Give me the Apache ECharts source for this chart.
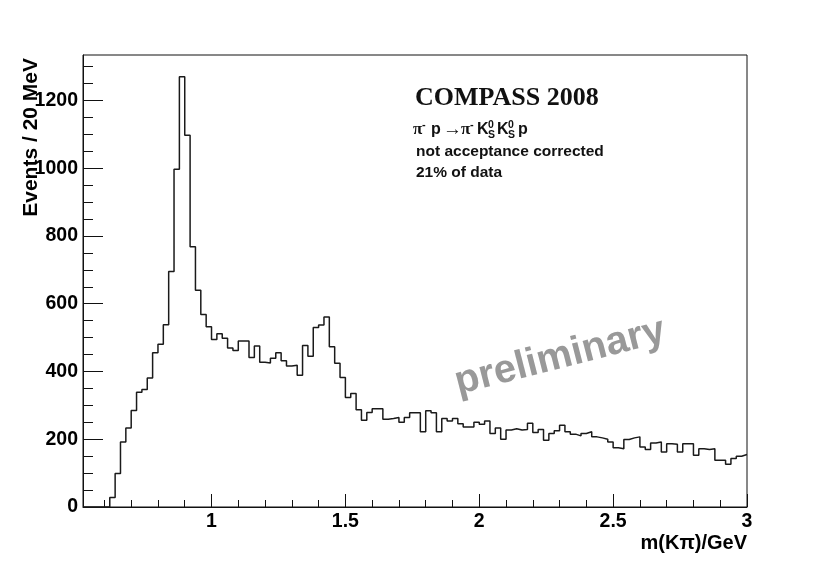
<!DOCTYPE html>
<html>
<head>
<meta charset="utf-8">
<title>COMPASS 2008 m(Kπ)</title>
<script src="https://cdn.jsdelivr.net/npm/echarts@6/dist/echarts.min.js"></script>
<style>
html, body { margin: 0; padding: 0; background: #fff; }
#chart { width: 830px; height: 563px; }
</style>
</head>
<body>
<div id="chart"></div>
<script>
// binning in GeV (20 MeV bins)
const binLow = 0.52;
const binWidth = 0.02;

// events per bin
const counts = [
  0, 0, 0, 0, 0, 28, 99, 192, 233, 285,
  339, 347, 381, 455, 480, 538, 695, 997, 1270, 1097,
  768, 640, 568, 532, 494, 511, 498, 469, 462, 490,
  490, 441, 475, 427, 425, 439, 455, 432, 416, 418,
  389, 477, 445, 530, 537, 561, 473, 424, 382, 323,
  335, 287, 256, 279, 290, 290, 259, 261, 264, 250,
  264, 278, 278, 222, 284, 278, 222, 261, 254, 261,
  246, 236, 236, 250, 244, 254, 217, 233, 200, 227,
  231, 227, 229, 247, 220, 229, 197, 217, 225, 241,
  222, 215, 210, 217, 222, 207, 204, 200, 192, 175,
  172, 199, 204, 207, 177, 170, 189, 192, 162, 187,
  185, 162, 187, 187, 153, 172, 170, 172, 138, 138,
  126, 143, 150, 155
];

const xMajorTicks = [1, 1.5, 2, 2.5, 3];
const xMinorTicks = [0.6, 0.7, 0.8, 0.9, 1.1, 1.2, 1.3, 1.4, 1.6, 1.7, 1.8, 1.9,
  2.1, 2.2, 2.3, 2.4, 2.6, 2.7, 2.8, 2.9];
const yMajorTicks = [0, 200, 400, 600, 800, 1000, 1200];
const yMinorTicks = [50, 100, 150, 250, 300, 350, 450, 500, 550, 650, 700, 750,
  850, 900, 950, 1050, 1100, 1150, 1250, 1300];

// left bin edge + content, plus closing point at the upper edge
const histPoints = counts.map((c, i) => [+(binLow + i * binWidth).toFixed(2), c]);
histPoints.push([+(binLow + counts.length * binWidth).toFixed(2), counts[counts.length - 1]]);

const xMin = binLow;
const xMax = +(binLow + counts.length * binWidth).toFixed(2);
const yMax = 1334;

const sans = '"Liberation Sans", Arial, Helvetica, sans-serif';
const serif = '"Liberation Serif", "Times New Roman", serif';
const ink = '#111';

function txt(x, y, text, font, extra) {
  return {
    type: 'text', x: x, y: y, z: 100,
    style: Object.assign({ text: text, font: font, fill: ink, verticalAlign: 'middle' }, extra || {})
  };
}

const chart = echarts.init(document.getElementById('chart'), null, { renderer: 'canvas' });

chart.setOption({
  animation: false,
  backgroundColor: '#fff',
  grid: {
    left: 83, right: 83, top: 55, bottom: 56,
    show: true, borderColor: ink, borderWidth: 1, backgroundColor: 'transparent'
  },
  xAxis: [
    {
      type: 'value', min: xMin, max: xMax, position: 'bottom',
      axisLine: { lineStyle: { color: ink, width: 1 } },
      axisTick: { inside: true, length: 13, customValues: xMajorTicks, lineStyle: { color: ink } },
      axisLabel: {
        customValues: xMajorTicks, margin: 5, color: '#000',
        fontSize: 19.5, fontWeight: 'bold', fontFamily: sans,
        formatter: v => String(v)
      },
      splitLine: { show: false }
    },
    {
      type: 'value', min: xMin, max: xMax, position: 'bottom',
      axisLine: { show: false },
      axisTick: { inside: true, length: 7, customValues: xMinorTicks, lineStyle: { color: ink } },
      axisLabel: { show: false },
      splitLine: { show: false }
    }
  ],
  yAxis: [
    {
      type: 'value', min: 0, max: yMax, position: 'left',
      axisLine: { show: true, lineStyle: { color: ink, width: 1 } },
      axisTick: { show: true, inside: true, length: 20, customValues: yMajorTicks, lineStyle: { color: ink } },
      axisLabel: {
        customValues: yMajorTicks, margin: 5, color: '#000',
        fontSize: 19.5, fontWeight: 'bold', fontFamily: sans,
        formatter: v => String(v)
      },
      splitLine: { show: false }
    },
    {
      type: 'value', min: 0, max: yMax, position: 'left',
      axisLine: { show: false },
      axisTick: { show: true, inside: true, length: 10, customValues: yMinorTicks, lineStyle: { color: ink } },
      axisLabel: { show: false },
      splitLine: { show: false }
    }
  ],
  series: [
    {
      type: 'line',
      step: 'end',
      data: histPoints,
      showSymbol: false,
      symbol: 'none',
      lineStyle: { color: '#1a1a1a', width: 1.5 },
      silent: true
    }
  ],
  graphic: [
    // axis titles
    {
      type: 'text', x: 31, y: 58, rotation: Math.PI / 2, z: 100,
      style: { text: 'Events / 20 MeV', align: 'right', verticalAlign: 'middle',
        font: 'bold 21px ' + sans, fill: '#000' }
    },
    {
      type: 'text', x: 747, y: 543, z: 100,
      style: { text: 'm(K\u03c0)/GeV', align: 'right', verticalAlign: 'middle',
        font: 'bold 20px ' + sans, fill: '#000' }
    },
    // labels
    txt(415, 98, 'COMPASS 2008', 'bold 26px ' + serif),
    txt(413, 130, '\u03c0', 'bold 17px ' + serif),
    txt(422, 125, '-', 'bold 11px ' + sans),
    txt(431, 130, 'p', 'bold 16px ' + sans),
    txt(443, 130, '\u2192', '19px ' + serif),
    txt(461, 130, '\u03c0', 'bold 17px ' + serif),
    txt(470, 125, '-', 'bold 11px ' + sans),
    txt(477, 130, 'K', 'bold 16px ' + sans),
    txt(488, 125, '0', 'bold 10.5px ' + sans),
    txt(488, 135, 'S', 'bold 10.5px ' + sans),
    txt(497, 130, 'K', 'bold 16px ' + sans),
    txt(508, 125, '0', 'bold 10.5px ' + sans),
    txt(508, 135, 'S', 'bold 10.5px ' + sans),
    txt(518, 130, 'p', 'bold 16px ' + sans),
    txt(416, 152, 'not acceptance corrected', 'bold 15.5px ' + sans),
    txt(416, 173, '21% of data', 'bold 15.5px ' + sans),
    {
      type: 'text', x: 560, y: 357, rotation: 0.25, z: 100,
      style: { text: 'preliminary', align: 'center', verticalAlign: 'middle',
        font: 'bold 40px ' + sans, fill: '#999' }
    }
  ]
});
</script>
</body>
</html>
